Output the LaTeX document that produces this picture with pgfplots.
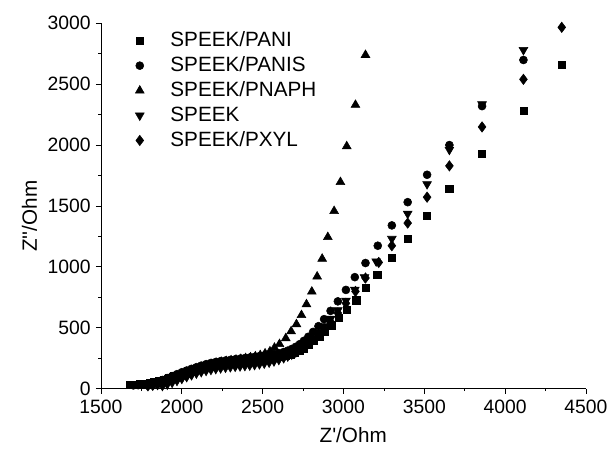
\documentclass[border=0pt]{standalone}
\usepackage{pgfplots}
\pgfplotsset{compat=1.18}
\usepackage{fontspec}
\setmainfont{Liberation Sans}
\newfontfamily\plainsf{Liberation Sans}
\begin{document}
\begin{tikzpicture}
\useasboundingbox (-75.75pt,-48.4pt) rectangle (381.75pt,291.4pt);
\begin{axis}[
  scale only axis, width=363.75pt, height=273.9pt,
  xmin=1500, xmax=4500, ymin=0, ymax=3000,
  axis x line=bottom, axis y line=left,
  axis line style={-, line width=0.6pt},
  xtick={1500,2000,...,4500}, ytick={0,500,...,3000},
  minor x tick num=1, minor y tick num=1,
  tick align=outside, major tick length=3.75pt, minor tick length=2pt,
  tick style={black, line width=0.6pt},
  ticklabel style={font=\plainsf\fontsize{14.5}{17}\selectfont},
  xticklabel style={yshift=-1.5pt},
  yticklabel style={xshift=-0.5pt},
  /pgf/number format/assume math mode=true,
  /pgf/number format/1000 sep={},
  xlabel={Z'/Ohm}, ylabel={Z''/Ohm},
  label style={font=\plainsf\fontsize{15.5}{18}\selectfont},
  xlabel style={at={(ticklabel cs:0.52)}, yshift=-3.5pt},
  ylabel style={at={(ticklabel cs:0.472)}, yshift=1pt},
  clip=false,
  legend cell align=left,
  legend image code/.code={\draw[mark repeat=1,#1] plot coordinates {(0pt,0pt)}; \path[draw=none,fill=none] (-3pt,-3pt) rectangle (21pt,3pt);},
  legend style={draw=none, fill=none, inner sep=0pt, outer sep=0pt,
    at={(0.0709,0.9865)}, anchor=north west, row sep=0pt, column sep=0pt,
    font=\plainsf\fontsize{15.5}{18}\selectfont,
    nodes={inner sep=2pt, text height=12pt, text depth=2.7pt}},
]
% SPEEK/PANI
\addplot[only marks, mark=square*, mark size=2.75pt, black] coordinates {
(4350,2658)(4113,2281)(3857,1928)(3655,1641)(3517,1419)(3397,1230)(3299,1072)
(3208,935)(3136,826)(3078,725)(3020,648)(2970,580)(2925,520)(2885,470)(2850,428)
(2815,390)(2785,358)(2755,330)(2728,308)(2700,292)(2670,279)(2640,268)(2610,260)
(2580,254)(2550,249)(2520,244)(2490,239)(2460,234)(2430,230)(2400,226)(2370,222)
(2340,218)(2310,214)(2280,210)(2250,205)(2220,199)(2190,192)(2160,184)(2130,175)
(2100,165)(2070,154)(2040,142)(2010,129)(1980,115)(1950,101)(1920,87)(1890,74)
(1860,62)(1830,52)(1800,44)(1770,38)(1740,34)(1710,31)(1680,29)
};
\addlegendentry{SPEEK/PANI}
% SPEEK/PANIS
\addplot[only marks, mark=*, mark size=3pt, black] coordinates {
(4113,2699)(3857,2320)(3655,2000)(3517,1756)(3397,1531)(3299,1340)(3212,1173)
(3136,1031)(3070,915)(3015,810)(2965,716)(2920,638)(2880,570)(2845,512)(2812,465)
(2782,425)(2755,392)(2730,365)(2705,343)(2680,325)(2655,311)(2630,300)(2600,290)
(2570,283)(2540,277)(2510,272)(2480,266)(2450,260)(2420,255)(2390,250)(2360,245)
(2330,240)(2300,235)(2270,230)(2240,225)(2210,218)(2180,210)(2150,200)(2120,188)
(2090,175)(2060,162)(2030,148)(2000,134)(1970,118)(1940,102)(1910,86)(1880,70)
(1850,56)(1820,44)(1790,36)(1760,31)(1730,28)(1700,26)
};
\addlegendentry{SPEEK/PANIS}
% SPEEK/PNAPH
\addplot[only marks, mark=triangle*, mark size=3.8pt, black] coordinates {
(3136,2740)(3074,2330)(3020,1990)(2981,1696)(2942,1458)(2903,1244)(2868,1066)
(2837,920)(2804,796)(2771,692)(2740,603)(2709,528)(2676,470)(2643,413)(2604,365)
(2573,335)(2545,305)(2515,288)(2485,274)(2455,264)(2425,256)(2395,249)(2365,243)
(2335,237)(2305,231)(2275,225)(2245,218)(2215,210)(2185,200)(2155,189)(2125,176)
(2095,162)(2065,147)(2035,131)(2005,115)(1975,99)(1945,83)(1915,68)(1885,54)
(1855,42)(1825,33)(1795,27)(1765,24)(1735,22)
};
\addlegendentry{SPEEK/PNAPH}
% SPEEK
\addplot[only marks, mark=triangle*, mark options={rotate=180}, mark size=3.8pt, black] coordinates {
(4113,2781)(3857,2335)(3655,1961)(3517,1679)(3397,1436)(3299,1230)(3202,1045)
(3130,915)(3070,812)(3015,722)(2965,643)(2920,573)(2880,513)(2845,460)(2812,415)
(2782,377)(2755,346)(2730,320)(2705,298)(2680,280)(2655,264)(2630,250)(2600,236)
(2570,224)(2540,214)(2510,206)(2480,200)(2450,194)(2420,190)(2390,186)(2360,183)
(2330,180)(2300,176)(2270,172)(2240,167)(2210,161)(2180,154)(2150,146)(2120,136)
(2090,124)(2060,110)(2030,95)(2000,80)(1970,64)(1940,48)(1910,33)(1880,22)
};
\addlegendentry{SPEEK}
% SPEEK/PXYL
\addplot[only marks, mark=diamond*, mark size=3.9pt, black] coordinates {
(4350,2967)(4113,2540)(3857,2149)(3655,1829)(3517,1572)(3397,1359)(3299,1173)
(3218,1036)(3136,908)(3074,798)(3015,700)(2965,620)(2920,550)(2880,490)(2845,442)
(2812,402)(2782,370)(2755,343)(2730,320)(2705,302)(2680,287)(2655,275)(2630,265)
(2600,256)(2570,248)(2540,242)(2510,236)(2480,231)(2450,226)(2420,221)(2390,216)
(2360,211)(2330,206)(2300,201)(2270,195)(2240,188)(2210,180)(2180,170)(2150,160)
(2120,148)(2090,135)(2060,121)(2030,106)(2000,92)(1970,78)(1940,64)(1910,51)
(1880,40)(1850,32)(1820,26)(1790,22)
};
\addlegendentry{SPEEK/PXYL}
\end{axis}
\end{tikzpicture}
\end{document}
